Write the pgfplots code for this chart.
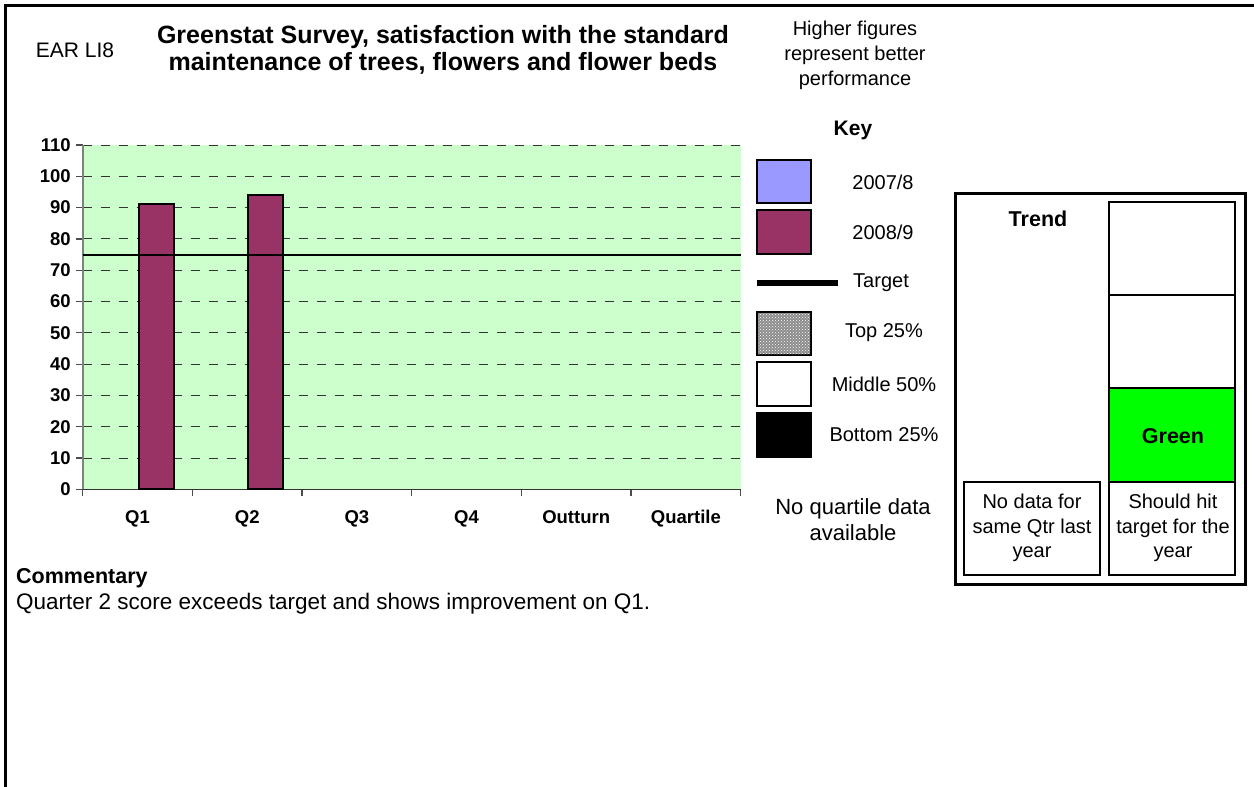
\documentclass[border=0pt]{standalone}
\usepackage{fontspec}
\setmainfont{Liberation Sans}
\usepackage{pgfplots}
\pgfplotsset{compat=1.18}
\usetikzlibrary{patterns}

\definecolor{plotbg}{HTML}{CCFFCC}
\definecolor{barB}{HTML}{993366}
\definecolor{barA}{HTML}{9999FF}
\definecolor{ragGreen}{HTML}{00FF00}
\newcommand{\fs}[2]{\fontsize{#1}{#2}\selectfont}

\begin{document}
\begin{tikzpicture}[x=1pt,y=1pt]
\path[use as bounding box] (0,0) rectangle (1254,-787);

% page frame
\draw[line width=2.7pt] (5.3,-790) -- (5.3,-5.3) -- (1256,-5.3);

% headings
\node[font=\fs{21}{25}] at (75,-50) {EAR LI8};
\node[font=\bfseries\fs{25}{27}, align=center] at (443,-50)
  {Greenstat Survey, satisfaction with the standard\\maintenance of trees, flowers and flower beds};
\node[font=\fs{20}{25}, align=center] at (855,-55)
  {Higher figures\\represent better\\performance};

% quarterly chart
\begin{axis}[
  at={(82.7pt,-489.3pt)}, anchor=south west,
  scale only axis, width=658pt, height=344.3pt,
  xmin=-0.5, xmax=5.5, ymin=0, ymax=110,
  axis x line*=bottom, axis y line*=left,
  axis background/.style={fill=plotbg},
  x axis line style={black!80, line width=1.4pt},
  y axis line style={black!50, line width=1.6pt},
  ytick={0,10,...,110},
  ymajorgrids,
  major grid style={black!80, line width=1pt, dash pattern=on 9pt off 9pt},
  tick align=outside,
  major tick length=6.5pt,
  tick style={black!70, line width=1.2pt},
  xtick={-0.5,0.5,...,5.5},
  xticklabels={},
  extra x ticks={0,1,2,3,4,5},
  extra x tick labels={Q1,Q2,Q3,Q4,Outturn,Quartile},
  extra x tick style={major tick length=0pt, grid=none},
  xticklabel style={font=\bfseries\fs{18.5}{18.5}, text height=13.5pt, text depth=2pt, yshift=-17pt},
  yticklabel style={font=\bfseries\fs{18.5}{18.5}, xshift=-2pt},
  /pgf/number format/assume math mode=true,
  clip=false,
]
  % 2008/9 results
  \addplot[ybar, bar width=35pt, bar shift=18.5pt, fill=barB, draw=black, line width=2pt]
    coordinates {(0,91.2) (1,93.9)};
  % target
  \addplot[black, line width=2pt, sharp plot] coordinates {(-0.5,75) (5.5,75)};
\end{axis}

% key
\node[font=\bfseries\fs{21}{25}] at (853,-130) {Key};
\draw[line width=2pt, fill=barA] (757,-160) rectangle (811,-203);
\node[font=\fs{20}{24}] at (883,-182) {2007/8};
\draw[line width=2pt, fill=barB] (757,-210) rectangle (811,-254);
\node[font=\fs{20}{24}] at (883,-232) {2008/9};
\draw[line width=6pt] (757,-283) -- (838,-283);
\node[font=\fs{20}{24}] at (881,-283) {Target};
\draw[line width=2pt, fill=black!45] (757,-312) rectangle (811,-355);
\fill[pattern=crosshatch dots, pattern color=white] (758,-313) rectangle (810,-354);
\node[font=\fs{20}{24}] at (884,-333) {Top 25\%};
\draw[line width=2pt, fill=white] (757,-362) rectangle (811,-406);
\node[font=\fs{20}{24}] at (884,-384) {Middle 50\%};
\draw[line width=2pt, fill=black] (757,-413) rectangle (811,-457);
\node[font=\fs{20}{24}] at (884,-435) {Bottom 25\%};
\node[font=\fs{22}{26}, align=center] at (853,-520) {No quartile data\\available};

% trend panel
\draw[line width=3pt] (955,-193) rectangle (1245,-584);
\fill[ragGreen] (1109,-388) rectangle (1235,-482);
\draw[line width=2pt] (1109,-202) rectangle (1235,-575);
\draw[line width=2pt] (1109,-295) -- (1235,-295);
\draw[line width=2pt] (1109,-388) -- (1235,-388);
\draw[line width=2pt] (1109,-482) -- (1235,-482);
\draw[line width=2pt] (964,-482) rectangle (1100,-575);
\node[font=\bfseries\fs{21.5}{25}] at (1038,-219) {Trend};
\node[font=\bfseries\fs{21.5}{25}] at (1173,-436) {Green};
\node[font=\fs{20}{24.5}, align=center] at (1032,-528) {No data for\\same Qtr last\\year};
\node[font=\fs{20}{24.5}, align=center] at (1173,-528) {Should hit\\target for the\\year};

% commentary
\node[anchor=west, inner sep=0pt, font=\bfseries\fs{21.5}{25}] at (16,-578) {Commentary};
\node[anchor=west, inner sep=0pt, font=\fs{22.5}{25}] at (16,-604) {Quarter 2 score exceeds target and shows improvement on Q1.};
\end{tikzpicture}
\end{document}
